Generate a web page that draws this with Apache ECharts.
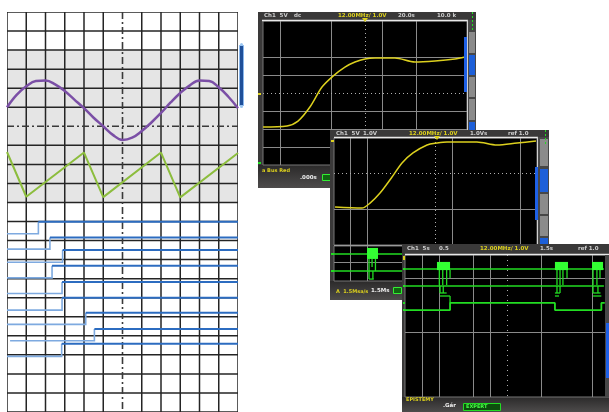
<!DOCTYPE html>
<html><head><meta charset="utf-8">
<script src="https://cdn.jsdelivr.net/npm/echarts@6/dist/echarts.min.js"></script>
<style>html,body{margin:0;padding:0;background:#fff}#c{width:609px;height:412px}</style>
</head><body><div id="c"></div><script>
// ---------- Left panel (12 columns x 21 rows, rows counted from the top) ----------
const leftCols = [0,1,2,3,4,5,7,8,9,10,11,12];
const leftRows = [0,1,2,3,4,5,7,8,9,10,11,12,13,14,15,16,17,18,19,20,21];
const centerCol = 6, centerRow = 6;
const grayBand = [[0,12,2,10]];
const sineX = [0,0.5,1,1.5,2,2.5,3,3.5,4,4.5,5,5.5,6,6.5,7,7.5,8,8.5,9,9.5,10,10.5,11,11.5,12];
const sineY = [5.0,4.35,3.9,3.62,3.6,3.8,4.15,4.6,5.05,5.55,6.0,6.45,6.72,6.6,6.25,5.8,5.3,4.75,4.25,3.85,3.6,3.62,3.95,4.45,5.05];
const sawX = [0,1,4,5,8,9,12];
const sawY = [7.35,9.7,7.38,9.72,7.38,9.73,7.4];
const chStart = [0,0,0,0,0,0,0,0.16,0];
const chEdge  = [1.63,2.23,2.89,2.34,2.86,2.86,4.09,4.54,2.84];
const chLow   = [11.64,12.45,13.14,13.96,14.78,15.65,16.4,17.26,18.08];
const chHigh  = [11.01,11.84,12.5,13.32,14.18,15.0,15.79,16.64,17.42];
const chEnd = 12;

// ---------- Scope screen 1 (analog step response) ----------
const s1X = [0,1.41,2.06,2.76,3.47,4.12,4.82,5.41,6.0,6.59,7.76,8.94,10.12,11.29,11.88];
const s1Y = [5.89,5.83,5.56,4.78,3.67,3.06,2.56,2.28,2.11,2.06,2.06,2.28,2.22,2.11,2.0];
const s1VSolid = [1,4,7,9], s1VDot = [6], s1HSolid = [2,3,5,6,7], s1HDot = [4];

// ---------- Scope screen 2 (analog + digital) ----------
const s2X = [0.06,1.65,2.13,2.72,3.43,4.02,4.67,5.5,6.09,6.68,8.45,9.63,10.82,11.94];
const s2Y = [3.87,3.93,3.65,3.09,2.19,1.40,0.84,0.39,0.28,0.22,0.22,0.39,0.28,0.17];
const s2VSolid = [1,2,7,11], s2VDot = [6], s2HSolid = [4], s2HDot = [2];
const s2Levels = [0.46,1.43];
const s2LowGray = [0.97];
const s2Bursts = [[1.95,2.6,0.11,0.74]];
const s2Ticks = [[2.07,0.74,2.07,1.43],[2.25,0.74,2.25,1.2],[2.45,0.74,2.45,1.43],[2.07,1.43,2.07,1.89],[2.3,1.43,2.3,1.89],[2.07,1.89,2.35,1.89]];

// ---------- Scope screen 3 (digital) ----------
const s3VSolid = [1,2,4,5,8,11], s3VDot = [6], s3HSolid = [1.3,4.34];
const s3Levels = [0.79,1.75];
const s3ChCX = [0,2.65,2.65,8.82,8.82,11.55,11.55,11.75];
const s3ChCY = [3.1,3.1,2.7,2.7,3.1,3.1,2.7,2.7];
const s3Bursts = [[1.88,2.65,0.39,0.85],[8.82,9.59,0.39,0.85],[11.0,11.65,0.39,0.85]];
const s3Ticks = [
 [2.02,0.85,2.02,1.69],[2.22,0.85,2.22,1.69],[2.45,0.85,2.45,1.69],[2.65,0.85,2.65,1.3],
 [2.06,1.75,2.06,2.14],[2.25,1.75,2.25,2.14],[2.06,2.14,2.45,2.14],[2.06,2.31,2.65,2.31],[2.65,2.31,2.65,2.7],
 [8.94,0.85,8.94,1.69],[9.12,0.85,9.12,1.69],[9.29,0.85,9.29,1.69],[9.53,0.85,9.53,1.3],
 [8.94,1.75,8.94,2.14],[9.12,1.75,9.12,2.14],[8.82,2.14,9.12,2.14],[8.82,2.31,9.06,2.31],
 [11.06,0.85,11.06,1.69],[11.29,0.85,11.29,1.69],[11.47,0.85,11.47,1.3],
 [11.06,1.75,11.06,2.14],[11.35,1.75,11.35,2.14],[11.06,2.14,11.5,2.14],[11.06,2.31,11.55,2.31]
];

// ---------- helpers ----------
const snap = v => Math.round(v - 0.5) + 0.5;
function segSeries(gi, segs, stroke, width, z, dash, crisp){
  return {type:'custom', coordinateSystem:'cartesian2d', xAxisIndex:gi, yAxisIndex:gi, z, silent:true, clip:true,
    data: segs, encode:{x:[0,2], y:[1,3]},
    renderItem(p, api){
      let a = api.coord([api.value(0), api.value(1)]);
      let b = api.coord([api.value(2), api.value(3)]);
      if (crisp) {
        if (Math.abs(a[0]-b[0]) < 0.01) { a[0] = b[0] = snap(a[0]); }
        if (Math.abs(a[1]-b[1]) < 0.01) { a[1] = b[1] = snap(a[1]); }
      }
      return {type:'line', shape:{x1:a[0], y1:a[1], x2:b[0], y2:b[1]}, style:{stroke, lineWidth:width, lineDash: dash || null}};
    }};
}
function rectSeries(gi, rects, fill, z){
  return {type:'custom', coordinateSystem:'cartesian2d', xAxisIndex:gi, yAxisIndex:gi, z, silent:true, clip:true,
    data: rects, encode:{x:[0,1], y:[2,3]},
    renderItem(p, api){
      const a = api.coord([api.value(0), api.value(2)]);
      const b = api.coord([api.value(1), api.value(3)]);
      return {type:'rect', shape:{x:Math.min(a[0],b[0]), y:Math.min(a[1],b[1]), width:Math.abs(b[0]-a[0]), height:Math.abs(b[1]-a[1])}, style:{fill}};
    }};
}
function lineSeries(gi, xs, ys, color, width, z, smooth){
  return {type:'line', xAxisIndex:gi, yAxisIndex:gi, data: xs.map((x,i)=>[x, ys[i]]), symbol:'none',
    smooth: smooth || false, lineStyle:{color, width}, z, silent:true, clip:true};
}
const vSegs = (arr, ymax) => arr.map(v => [v,0,v,ymax]);
const hSegs = (arr, xmax) => arr.map(h => [0,h,xmax,h]);

const PURPLE = '#7b4fa6', SAW = '#8cbd3d', BLUE_HI = '#2c6cc0', BLUE_LO = '#7eaae0';
const YEL = '#dcd01e', GRN = '#22dd22', GRIDG = '#8a8a8a', DOTG = '#b0b0b0';

const series = [
  rectSeries(0, grayBand, '#e5e5e5', 1),
  segSeries(0, vSegs(leftCols, 21), '#242424', 1.5, 2),
  segSeries(0, hSegs(leftRows, 12), '#242424', 1.5, 2),
  segSeries(0, [[centerCol,0,centerCol,21]], '#3a3a3a', 1.6, 3, [7,3,2,3]),
  segSeries(0, [[0,centerRow,12,centerRow]], '#3a3a3a', 1.6, 3, [7,3,2,3]),
  lineSeries(0, sineX, sineY, PURPLE, 2.5, 4, 0.4),
  lineSeries(0, sawX, sawY, SAW, 2, 4, false),
  {type:'custom', coordinateSystem:'cartesian2d', xAxisIndex:0, yAxisIndex:0, z:4, silent:true,
   data: chStart.map((s,i)=>[s, chEdge[i], chLow[i], chHigh[i]]), encode:{x:[0,1], y:[2,3]},
   renderItem(p, api){
     const s=api.value(0), e=api.value(1), lo=api.value(2), hi=api.value(3);
     const a=api.coord([s,lo]), b=api.coord([e,lo]), c=api.coord([e,hi]), d=api.coord([chEnd,hi]);
     return {type:'group', children:[
       {type:'polyline', shape:{points:[a,b,c]}, style:{stroke:BLUE_LO, lineWidth:1.6, fill:null}},
       {type:'polyline', shape:{points:[c,d]}, style:{stroke:BLUE_HI, lineWidth:2, fill:null}}]};
   }},
  // screen 1
  segSeries(1, vSegs(s1VSolid, 8), GRIDG, 1, 12, null, true),
  segSeries(1, hSegs(s1HSolid, 12), GRIDG, 1, 12, null, true),
  segSeries(1, vSegs(s1VDot, 8), DOTG, 1, 12, [1,3], true),
  segSeries(1, hSegs(s1HDot, 12), DOTG, 1, 12, [1,3], true),
  lineSeries(1, s1X, s1Y, YEL, 1.5, 13, 0.3),
  // screen 2 upper
  segSeries(2, vSegs(s2VSolid, 6), GRIDG, 1, 22, null, true),
  segSeries(2, hSegs(s2HSolid, 12), GRIDG, 1, 22, null, true),
  segSeries(2, vSegs(s2VDot, 6), DOTG, 1, 22, [1,3], true),
  segSeries(2, hSegs(s2HDot, 12), DOTG, 1, 22, [1,3], true),
  lineSeries(2, s2X, s2Y, YEL, 1.5, 23, 0.3),
  // screen 2 lower (digital)
  segSeries(3, vSegs(s2VSolid, 2), GRIDG, 1, 22, null, true),
  segSeries(3, hSegs(s2LowGray, 12), GRIDG, 1, 22, null, true),
  segSeries(3, hSegs(s2Levels, 12), GRN, 1.6, 23),
  rectSeries(3, s2Bursts, '#33ff33', 23),
  segSeries(3, s2Ticks, GRN, 1.3, 23),
  // screen 3
  segSeries(4, vSegs(s3VSolid, 8), GRIDG, 1, 32, null, true),
  segSeries(4, hSegs(s3HSolid, 12), GRIDG, 1, 32, null, true),
  segSeries(4, vSegs(s3VDot, 8), DOTG, 1, 32, [1,4], true),
  segSeries(4, hSegs(s3Levels, 11.7), GRN, 1.6, 33),
  lineSeries(4, s3ChCX, s3ChCY, GRN, 1.8, 33, false),
  rectSeries(4, s3Bursts, '#33ff33', 33),
  segSeries(4, s3Ticks, GRN, 1.3, 33)
];

// ---------- decorative frames ----------
const G = [];
const grad = () => new echarts.graphic.LinearGradient(0,0,0,1,[{offset:0,color:'#2b2a2a'},{offset:1,color:'#4d4b4b'}]);
function rect(x,y,w,h,fill,z,stroke){ G.push({type:'rect', shape:{x,y,width:w,height:h}, style:{fill, stroke: stroke||null, lineWidth: stroke?1:0}, z, silent:true}); }
function text(x,y,t,fill,z,size){ G.push({type:'text', x, y, style:{text:t, fill, font:'bold '+(size||6)+'px "DejaVu Sans"', verticalAlign:'middle'}, z, silent:true}); }
function line(x1,y1,x2,y2,stroke,w,z,dash){ G.push({type:'line', shape:{x1,y1,x2,y2}, style:{stroke, lineWidth:w, lineDash:dash||null}, z, silent:true}); }

// left marker
rect(239.5,45.5,4,60,'#1f4f99',5,'#8ab8ee');
G.push({type:'circle', shape:{cx:241.5,cy:44.5,r:1.5}, style:{fill:'#9cc6f2'}, z:5, silent:true});
G.push({type:'circle', shape:{cx:241.5,cy:106.5,r:1.5}, style:{fill:'#9cc6f2'}, z:5, silent:true});

// screen 1
rect(258,12,218,176,'#3a3939',10);
rect(258,165,218,23,grad(),10);
text(264,16,'Ch1  5V','#cfcfcf',14,5.5); text(294,16,'dc','#cfcfcf',14,5.5);
text(338,16,'12.00MHz/ 1.0V',YEL,14,5.5); text(398,16,'20.0s','#cfcfcf',14,5.5); text(437,16,'10.0 k','#cfcfcf',14,5.5);
line(262,20.5,468,20.5,'#e8e8e8',1.5,14); line(467.5,20,467.5,165,'#d0d0d0',1,14);
rect(468,20,8,145,'#474747',14);
rect(469,32,6,21,'#8b8b8b',14); rect(469,55,6,20,'#1d5fd8',14); rect(469,77,6,20,'#8b8b8b',14);
rect(469,99,6,21,'#8b8b8b',14); rect(469,122,6,9,'#1d5fd8',14);
line(472.5,12,472.5,30,GRN,1,14,[2,2]);
rect(464,37,3,55,'#1e60e6',14);
rect(258,93,3,2,YEL,14); rect(258,162,3,2,GRN,14);
G.push({type:'polygon', shape:{points:[[362,18],[368,18],[365,22]]}, style:{fill:YEL}, z:14, silent:true});
text(262,171,'a Bus Red',YEL,14,5); text(300,178,'.000s','#eee',14,5.5);
rect(322.5,174.5,8,6,'#116611',14,'#33ee33');

// screen 2
rect(330,130,219,170,'#3a3939',20);
rect(330,281,219,19,grad(),20);
text(336,134,'Ch1  5V','#cfcfcf',24,5.5); text(363,134,'1.0V','#cfcfcf',24,5.5);
text(409,134,'12.00MHz/ 1.0V',YEL,24,5.5); text(470,134,'1.0Vs','#cfcfcf',24,5.5); text(508,134,'ref 1.0','#cfcfcf',24,5.5);
line(334,137.5,538,137.5,'#e8e8e8',1.5,24); line(537.5,137,537.5,281,'#d0d0d0',1,24);
line(334,245.5,538,245.5,'#9a9a9a',1,24);
rect(538,137,11,144,'#474747',24);
rect(540,139,8,27,'#8b8b8b',24); rect(540,169,8,23,'#1d5fd8',24); rect(540,194,8,20,'#8b8b8b',24);
rect(540,216,8,20,'#8b8b8b',24); rect(540,238,8,9,'#1d5fd8',24);
line(545.5,130,545.5,146,GRN,1,24,[2,2]);
rect(535,167,3,53,'#1e60e6',24);
rect(331,140,3,2,YEL,24); rect(331,253,3,2,GRN,24); rect(331,270,3,2,GRN,24);
G.push({type:'polygon', shape:{points:[[434,136],[440,136],[437,140]]}, style:{fill:YEL}, z:24, silent:true});
text(336,292,'A  1.5Msa/s',YEL,24,5); text(371,291,'1.5Ms','#eee',24,5.5);
rect(393.5,287.5,8,6,'#116611',24,'#33ee33');

// screen 3
rect(402,244,207,168,'#3a3939',30);
rect(402,397,207,15,grad(),30);
text(407,249,'Ch1  5s','#cfcfcf',34,5.5); text(439,249,'0.5','#cfcfcf',34,5.5);
text(480,249,'12.00MHz/ 1.0V',YEL,34,5.5); text(540,249,'1.5s','#cfcfcf',34,5.5); text(578,249,'ref 1.0','#cfcfcf',34,5.5);
line(405,254.5,609,254.5,'#e8e8e8',1.5,34);
rect(605,255,4,142,'#474747',34); rect(606,323,3,55,'#1e60e6',34);
rect(403,256,2,4,YEL,34);
rect(403,268,2,2,GRN,34); rect(403,285,2,2,GRN,34); rect(403,302,2,2,GRN,34); rect(403,309,2,2,GRN,34);
text(406,400,'EPISTEMY',YEL,34,5); text(443,406,'.Gár','#eee',34,5.5);
rect(463.5,403.5,37,7,'#0d4d0d',34,'#22dd22');
text(466,407,'EXPERT','#44ff44',34,5);

const chart = echarts.init(document.getElementById('c'));
chart.setOption({
  animation:false,
  grid:[
    {left:7, top:12, width:231, height:404, show:false},
    {left:263, top:21, width:204, height:144, show:true, backgroundColor:'#000', borderColor:'#777', borderWidth:1, z:11},
    {left:334, top:138, width:203, height:107, show:true, backgroundColor:'#000', borderColor:'#777', borderWidth:1, z:21},
    {left:334, top:246, width:203, height:35, show:true, backgroundColor:'#000', borderColor:'#777', borderWidth:1, z:21},
    {left:405, top:255, width:204, height:142, show:true, backgroundColor:'#000', borderColor:'#777', borderWidth:1, z:31}
  ],
  xAxis:[
    {gridIndex:0, type:'value', min:0, max:12, show:false},
    {gridIndex:1, type:'value', min:0, max:12, show:false},
    {gridIndex:2, type:'value', min:0, max:12, show:false},
    {gridIndex:3, type:'value', min:0, max:12, show:false},
    {gridIndex:4, type:'value', min:0, max:12, show:false}
  ],
  yAxis:[
    {gridIndex:0, type:'value', min:0, max:21, inverse:true, show:false},
    {gridIndex:1, type:'value', min:0, max:8, inverse:true, show:false},
    {gridIndex:2, type:'value', min:0, max:6, inverse:true, show:false},
    {gridIndex:3, type:'value', min:0, max:2, inverse:true, show:false},
    {gridIndex:4, type:'value', min:0, max:8, inverse:true, show:false}
  ],
  graphic: G,
  series
});
</script></body></html>
